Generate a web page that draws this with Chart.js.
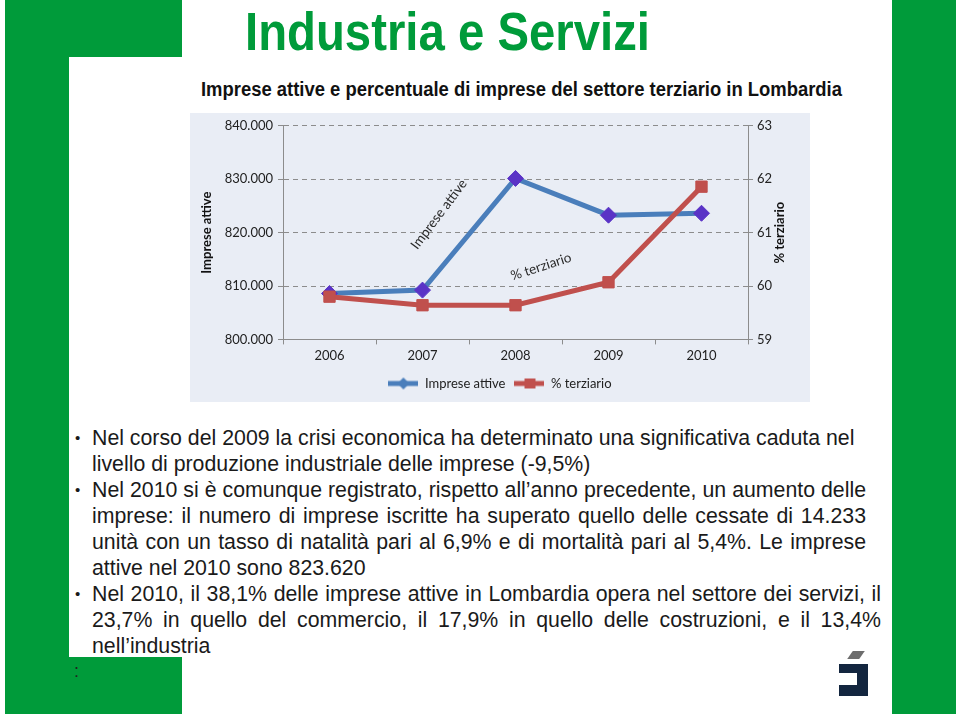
<!DOCTYPE html>
<html>
<head>
<meta charset="utf-8">
<script src="https://cdn.jsdelivr.net/npm/chart.js@4.4.1/dist/chart.umd.min.js"></script>
<style>
  body { margin: 0; background: #fff; }
  #slide { position: relative; width: 960px; height: 716px; overflow: hidden; background: #fff; }
  .green { position: absolute; background: #009b3a; }
  .fit { position: absolute; white-space: nowrap; transform-origin: 0 0; }
  #title { left: 245px; top: 5px; font: bold 53px "Liberation Sans Narrow", "Liberation Sans", Arial, sans-serif; line-height: 53px; color: #009b3a; }
  #subtitle { left: 201px; top: 80px; font: bold 19.5px "Liberation Sans Narrow", "Liberation Sans", Arial, sans-serif; line-height: 19.5px; color: #111; }
  #panel { position: absolute; left: 190px; top: 113px; width: 620px; height: 289px; background: #e9edf5; }
  #text { position: absolute; left: 92px; top: 425px; font: 21.3px "Liberation Sans", Arial, sans-serif; color: #1a1a1a; }
  #text div { height: 26px; line-height: 26px; white-space: nowrap; }
  #text div.j { text-align: justify; text-align-last: justify; }
  .bul { position: absolute; left: -17px; font-size: 15px; }
  #colon { position: absolute; left: 74px; top: 661px; font: 18px "Liberation Sans", Arial, sans-serif; color: #222; }
  .logo { position: absolute; }
</style>
</head>
<body>
<div id="slide">
  <div class="green" style="left:5px;top:0;width:64px;height:714px"></div>
  <div class="green" style="left:5px;top:0;width:177px;height:57px"></div>
  <div class="green" style="left:5px;top:657px;width:177px;height:57px"></div>
  <div class="green" style="left:892px;top:0;width:64px;height:714px"></div>

  <div id="title" class="fit" data-w="405">Industria e Servizi</div>
  <div id="subtitle" class="fit" data-w="641">Imprese attive e percentuale di imprese del settore terziario in Lombardia</div>

  <div id="panel"><canvas id="chart" width="620" height="289"></canvas></div>

  <div id="text">
    <div style="position:relative"><span class="bul">•</span>Nel corso del 2009 la crisi economica ha determinato una significativa caduta nel</div>
    <div>livello di produzione industriale delle imprese (-9,5%)</div>
    <div class="j" style="position:relative;width:774px"><span class="bul">•</span>Nel 2010 si è comunque registrato, rispetto all’anno precedente, un aumento delle</div>
    <div class="j" style="width:774px">imprese: il numero di imprese iscritte ha superato quello delle cessate di 14.233</div>
    <div class="j" style="width:774px">unità con un tasso di natalità pari al 6,9% e di mortalità pari al 5,4%. Le imprese</div>
    <div>attive nel 2010 sono 823.620</div>
    <div class="j" style="position:relative;width:789px"><span class="bul">•</span>Nel 2010, il 38,1% delle imprese attive in Lombardia opera nel settore dei servizi, il</div>
    <div class="j" style="width:789px">23,7% in quello del commercio, il 17,9% in quello delle costruzioni, e il 13,4%</div>
    <div>nell’industria</div>
  </div>
  <div id="colon">:</div>

  <div class="logo" style="left:850px;top:651px;width:12px;height:8px;background:#6d6d6d;transform:skewX(-35deg)"></div>
  <div class="logo" style="left:839px;top:664px;width:29px;height:32px;background:#13263f"></div>
  <div class="logo" style="left:839px;top:673px;width:18px;height:12px;background:#fff"></div>
</div>

<script>
var years = ['2006', '2007', '2008', '2009', '2010'];
var impreseAttive = [808600, 809230, 830140, 823260, 823620];
var terziario = [59.80, 59.64, 59.64, 60.07, 61.86];
var leftTicks = { min: 800000, max: 840000, step: 10000 };
var rightTicks = { min: 59, max: 63, step: 1 };

var blue = '#4a7ebb';
var violet = '#5a33c6';
var red = '#c0504d';
var gridGray = '#8c8c8c';
var chartFont = 'Lato, "Open Sans", sans-serif';

// squeeze the condensed headings to their measured widths
document.querySelectorAll('.fit').forEach(function(el){
    var w = el.getBoundingClientRect().width;
    el.style.transform = 'scaleX(' + (parseFloat(el.dataset.w) / w) + ')';
});

function thousands(v){
    return String(v).replace(/\B(?=(\d{3})+(?!\d))/g, '.');
}

function legendIcon(color, style){
    var c = document.createElement('canvas');
    c.width = 30; c.height = 14;
    var g = c.getContext('2d');
    g.strokeStyle = color;
    g.lineWidth = 5;
    g.beginPath(); g.moveTo(0, 7); g.lineTo(30, 7); g.stroke();
    g.fillStyle = color;
    if(style == 'diamond'){
        g.beginPath(); g.moveTo(15, 1); g.lineTo(21, 7); g.lineTo(15, 13); g.lineTo(9, 7); g.closePath(); g.fill();
    } else {
        g.fillRect(10, 2, 11, 10);
    }
    return c;
}
var icons = [legendIcon(blue, 'diamond'), legendIcon(red, 'square')];

var seriesLabels = {
    id: 'seriesLabels',
    afterDatasetsDraw: function(chart){
        var ctx = chart.ctx;
        var a = chart.getDatasetMeta(0).data;
        var b = chart.getDatasetMeta(1).data;
        ctx.save();
        ctx.fillStyle = '#2b2b2b';
        ctx.font = '13.5px ' + chartFont;
        ctx.textAlign = 'center';
        ctx.textBaseline = 'middle';
        // "Imprese attive" beside the 2007-2008 segment
        ctx.save();
        ctx.translate((a[1].x + a[2].x) / 2 - 30, (a[1].y + a[2].y) / 2 - 20);
        ctx.rotate(-53 * Math.PI / 180);
        ctx.fillText(chart.data.datasets[0].label, 0, 0);
        ctx.restore();
        // "% terziario" above the 2008-2009 segment
        ctx.save();
        ctx.translate((b[2].x + b[3].x) / 2 - 21, (b[2].y + b[3].y) / 2 - 27);
        ctx.rotate(-18 * Math.PI / 180);
        ctx.fillText(chart.data.datasets[1].label, 0, 0);
        ctx.restore();
        ctx.restore();
    },
    afterDraw: function(chart){
        var s = chart.scales.y1;
        var ctx = chart.ctx;
        ctx.save();
        ctx.translate(s.right - 30, (s.top + s.bottom) / 2);
        ctx.rotate(-Math.PI / 2);
        ctx.font = 'bold 13px ' + chartFont;
        ctx.fillStyle = '#111';
        ctx.textAlign = 'center';
        ctx.textBaseline = 'middle';
        ctx.fillText('% terziario', 0, 0);
        ctx.restore();
    }
};

var ctx = document.getElementById('chart').getContext('2d');
var chart = new Chart(ctx, {
    type: 'line',
    data: {
        labels: years,
        datasets: [{
            label: 'Imprese attive',
            data: impreseAttive,
            yAxisID: 'y',
            borderColor: blue,
            borderWidth: 5,
            pointStyle: 'rectRot',
            pointRadius: 8,
            pointBackgroundColor: violet,
            pointBorderColor: violet,
            pointBorderWidth: 1,
            order: 1
        }, {
            label: '% terziario',
            data: terziario,
            yAxisID: 'y1',
            borderColor: red,
            borderWidth: 5,
            pointStyle: 'rect',
            pointRadius: 8,
            pointBackgroundColor: red,
            pointBorderColor: red,
            pointBorderWidth: 1,
            order: 0
        }]
    },
    options: {
        responsive: false,
        animation: false,
        layout: { padding: { top: 7, bottom: 2, left: 0, right: 0 } },
        plugins: {
            tooltip: { enabled: false },
            legend: {
                position: 'bottom',
                labels: {
                    usePointStyle: true,
                    pointStyleWidth: 30,
                    boxHeight: 14,
                    padding: 9,
                    color: '#222',
                    font: { family: chartFont, size: 13 },
                    generateLabels: function(chart){
                        return chart.data.datasets.map(function(ds, i){
                            return { text: ds.label, pointStyle: icons[i], datasetIndex: i, fontColor: '#222', lineWidth: 0, strokeStyle: 'transparent', fillStyle: 'transparent' };
                        });
                    }
                }
            }
        },
        scales: {
            x: {
                offset: true,
                grid: { offset: true, drawOnChartArea: false, tickLength: 5, color: gridGray },
                border: { color: gridGray },
                ticks: { color: '#222', padding: 4, font: { family: chartFont, size: 13 } }
            },
            y: {
                position: 'left',
                min: leftTicks.min,
                max: leftTicks.max,
                afterFit: function(s){ s.width = 93; },
                ticks: { stepSize: leftTicks.step, color: '#222', padding: 5, font: { family: chartFont, size: 13 }, callback: function(v){ return thousands(v); } },
                grid: {
                    tickLength: 5,
                    color: function(c){ return c.tick && c.tick.value == leftTicks.min ? 'transparent' : gridGray; },
                    tickColor: gridGray,
                    tickBorderDash: [],
                    borderDash: [5, 4]
                },
                border: { color: gridGray, dash: [5, 4] },
                title: { display: true, text: 'Imprese attive', color: '#111', padding: { top: 9, bottom: 0 }, font: { family: chartFont, size: 13, weight: 'bold' } }
            },
            y1: {
                position: 'right',
                min: rightTicks.min,
                max: rightTicks.max,
                afterFit: function(s){ s.width = 62; },
                ticks: { stepSize: rightTicks.step, color: '#222', padding: 4, font: { family: chartFont, size: 13 } },
                grid: { drawOnChartArea: false, tickLength: 5, color: gridGray },
                border: { color: gridGray }
            }
        }
    },
    plugins: [seriesLabels]
});
</script>
</body>
</html>
